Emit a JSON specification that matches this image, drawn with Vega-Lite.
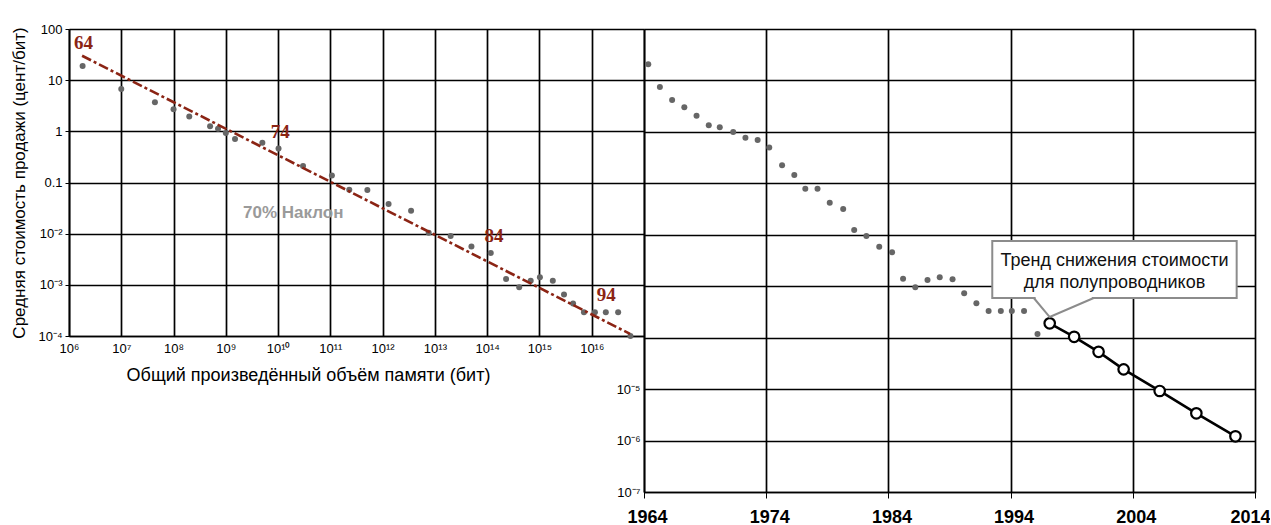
{
  "$schema": "https://vega.github.io/schema/vega-lite/v6.json",
  "padding": {"left": 10, "top": 23, "right": 0, "bottom": 0},
  "background": "white",
  "config": {
    "font": "Liberation Sans",
    "view": {"stroke": null},
    "axis": {
      "gridColor": "#000000", "gridWidth": 1.7, "gridOpacity": 1,
      "domainColor": "#000000", "domainWidth": 1.7,
      "tickColor": "#000000", "labelColor": "#000000", "titleColor": "#000000",
      "labelFont": "Liberation Sans", "titleFont": "Liberation Sans",
      "titleFontWeight": "normal"
    }
  },
  "datasets": {
    "leftDots": [
      {"mem": 1.82e6, "cost": 19}, {"mem": 1e7, "cost": 6.7}, {"mem": 4.4e7, "cost": 3.7},
      {"mem": 1e8, "cost": 2.7}, {"mem": 2e8, "cost": 1.96}, {"mem": 5e8, "cost": 1.26},
      {"mem": 7.1e8, "cost": 1.12}, {"mem": 1e9, "cost": 0.93}, {"mem": 1.5e9, "cost": 0.71},
      {"mem": 5e9, "cost": 0.6}, {"mem": 1.02e10, "cost": 0.46}, {"mem": 3e10, "cost": 0.21},
      {"mem": 1.07e11, "cost": 0.137}, {"mem": 2.3e11, "cost": 0.072}, {"mem": 5.1e11, "cost": 0.071},
      {"mem": 1.3e12, "cost": 0.038}, {"mem": 3.5e12, "cost": 0.028}, {"mem": 7.6e12, "cost": 0.0104},
      {"mem": 2e13, "cost": 0.009}, {"mem": 5e13, "cost": 0.0056}, {"mem": 1.17e14, "cost": 0.0042},
      {"mem": 2.3e14, "cost": 0.0013}, {"mem": 4.1e14, "cost": 0.0009}, {"mem": 6.8e14, "cost": 0.0012},
      {"mem": 1.02e15, "cost": 0.0014}, {"mem": 1.8e15, "cost": 0.0012}, {"mem": 2.95e15, "cost": 0.00065},
      {"mem": 4.4e15, "cost": 0.00043}, {"mem": 7.1e15, "cost": 0.00029}, {"mem": 1.15e16, "cost": 0.00029},
      {"mem": 1.86e16, "cost": 0.00029}, {"mem": 3.2e16, "cost": 0.00029}, {"mem": 5.5e16, "cost": 0.0001}
    ],
    "leftTrend": [{"mem": 1.78e6, "cost": 30}, {"mem": 5.4e16, "cost": 0.00011}],
    "leftLabels": [
      {"mem": 1.9e6, "cost": 53, "t": "64"},
      {"mem": 1.1e10, "cost": 0.96, "t": "74"},
      {"mem": 1.35e14, "cost": 0.0089, "t": "84"},
      {"mem": 1.9e16, "cost": 0.00063, "t": "94"}
    ],
    "slope": [{"mem": 1.95e10, "cost": 0.025, "t": "70% Наклон"}],
    "rightDots": [
      {"yr": 1964.35, "cost": 20.6}, {"yr": 1965.3, "cost": 7.45}, {"yr": 1966.3, "cost": 4.17},
      {"yr": 1967.3, "cost": 3.0}, {"yr": 1968.3, "cost": 2.06}, {"yr": 1969.3, "cost": 1.34},
      {"yr": 1970.2, "cost": 1.23}, {"yr": 1971.3, "cost": 1.0}, {"yr": 1972.3, "cost": 0.77},
      {"yr": 1973.3, "cost": 0.695}, {"yr": 1974.25, "cost": 0.5}, {"yr": 1975.3, "cost": 0.224},
      {"yr": 1976.3, "cost": 0.145}, {"yr": 1977.2, "cost": 0.0786}, {"yr": 1978.2, "cost": 0.0786},
      {"yr": 1979.2, "cost": 0.042}, {"yr": 1980.3, "cost": 0.0317}, {"yr": 1981.2, "cost": 0.0124},
      {"yr": 1982.2, "cost": 0.00946}, {"yr": 1983.25, "cost": 0.00586}, {"yr": 1984.3, "cost": 0.00456},
      {"yr": 1985.2, "cost": 0.0014}, {"yr": 1986.2, "cost": 0.000953}, {"yr": 1987.2, "cost": 0.00132},
      {"yr": 1988.2, "cost": 0.00149}, {"yr": 1989.25, "cost": 0.00136}, {"yr": 1990.2, "cost": 0.000728},
      {"yr": 1991.2, "cost": 0.000465}, {"yr": 1992.2, "cost": 0.00033}, {"yr": 1993.2, "cost": 0.00033},
      {"yr": 1994.1, "cost": 0.00033}, {"yr": 1995.1, "cost": 0.00033}, {"yr": 1996.2, "cost": 0.000118}
    ],
    "rightTrend": [
      {"yr": 1997.2, "cost": 0.00019}, {"yr": 1999.2, "cost": 0.000104}, {"yr": 2001.2, "cost": 5.3e-5},
      {"yr": 2003.25, "cost": 2.42e-5}, {"yr": 2006.2, "cost": 9.2e-6}, {"yr": 2009.2, "cost": 3.38e-6},
      {"yr": 2012.4, "cost": 1.21e-6}
    ],
    "box": [{"yr": 1992.5, "yr2": 2012.5, "cost": 0.00757, "cost2": 0.00059}],
    "gap": [{"yr": 1996.05, "yr2": 2000.65, "cost": 0.00059}],
    "pointer": [
      {"yr": 1995.9, "cost": 0.00059}, {"yr": 1997.2, "cost": 0.000252}, {"yr": 2000.8, "cost": 0.00059}
    ],
    "boxText": [
      {"yr": 2002.5, "cost": 0.0031, "t": "Тренд снижения стоимости"},
      {"yr": 2002.5, "cost": 0.00115, "t": "для полупроводников"}
    ]
  },
  "hconcat": [
    {
      "width": 575,
      "height": 307,
      "encoding": {
        "x": {
          "field": "mem", "type": "quantitative",
          "scale": {"type": "log", "domain": [1e6, 1e17], "nice": false},
          "axis": {
            "values": [1e6, 1e7, 1e8, 1e9, 1e10, 1e11, 1e12, 1e13, 1e14, 1e15, 1e16],
            "labelExpr": "'10' + (round(log(datum.value)/LN10) >= 10 ? '¹' : '') + substring('⁰¹²³⁴⁵⁶⁷⁸⁹', round(log(datum.value)/LN10) % 10, round(log(datum.value)/LN10) % 10 + 1)",
            "labelFontSize": 13, "labelPadding": 6, "tickSize": 0,
            "title": "Общий произведённый объём памяти (бит)",
            "titleFontSize": 18, "titleX": 239, "titleAlign": "center", "titlePadding": 11,
            "labelFlush": false
          }
        },
        "y": {
          "field": "cost", "type": "quantitative",
          "scale": {"type": "log", "domain": [0.0001, 100], "nice": false},
          "axis": {
            "values": [100, 10, 1, 0.1, 0.01, 0.001, 0.0001],
            "labelExpr": "datum.value > 50 ? '100' : datum.value > 5 ? '10' : datum.value > 0.5 ? '1' : datum.value > 0.05 ? '0.1' : '10⁻' + substring('⁰¹²³⁴⁵⁶⁷⁸⁹', round(-log(datum.value)/LN10), round(-log(datum.value)/LN10) + 1)",
            "labelFontSize": 13, "labelPadding": 3, "tickSize": 4,
            "title": "Средняя стоимость продажи (цент/бит)",
            "titleFontSize": 17, "titlePadding": 9,
            "labelFlush": false
          }
        }
      },
      "layer": [
        {"data": {"name": "leftDots"}, "mark": {"type": "circle", "size": 36, "color": "#666666", "opacity": 1}},
        {"data": {"name": "leftTrend"}, "mark": {"type": "line", "color": "#8b2414", "strokeWidth": 2.6, "strokeDash": [10, 3, 3, 3]}},
        {"data": {"name": "leftLabels"}, "mark": {"type": "text", "font": "Liberation Serif", "fontWeight": "bold", "fontSize": 19, "color": "#8b2414", "align": "center", "baseline": "middle"}, "encoding": {"text": {"field": "t"}}},
        {"data": {"name": "slope"}, "mark": {"type": "text", "font": "Liberation Sans", "fontWeight": "bold", "fontSize": 17, "color": "#9a9a9a", "align": "center", "baseline": "middle"}, "encoding": {"text": {"field": "t"}}}
      ]
    },
    {
      "width": 611,
      "height": 463,
      "encoding": {
        "x": {
          "field": "yr", "type": "quantitative",
          "scale": {"domain": [1964, 2014], "nice": false, "zero": false},
          "axis": {
            "values": [1964, 1974, 1984, 1994, 2004, 2014],
            "format": "d",
            "labelFontSize": 18, "labelFontWeight": "bold", "tickSize": 6, "labelPadding": 10,
            "labelFlush": false,
            "labelAlign": {"expr": "datum.value >= 2014 ? 'right' : 'center'"},
            "labelOffset": {"expr": "datum.value >= 2014 ? 15 : 3"},
            "title": null
          }
        },
        "y": {
          "field": "cost", "type": "quantitative",
          "scale": {"type": "log", "domain": [1e-7, 100], "nice": false},
          "axis": {
            "values": [100, 10, 1, 0.1, 0.01, 0.001, 0.0001, 1e-5, 1e-6, 1e-7],
            "labelExpr": "datum.value > 5e-5 ? '' : '10⁻' + substring('⁰¹²³⁴⁵⁶⁷⁸⁹', round(-log(datum.value)/LN10), round(-log(datum.value)/LN10) + 1)",
            "labelFontSize": 13, "labelPadding": 4, "tickSize": 0,
            "labelFlush": false,
            "title": null
          }
        }
      },
      "layer": [
        {"data": {"name": "rightDots"}, "mark": {"type": "circle", "size": 36, "color": "#666666", "opacity": 1}},
        {"data": {"name": "rightTrend"}, "mark": {"type": "line", "color": "#000000", "strokeWidth": 2.6, "point": {"filled": false, "fill": "white", "stroke": "black", "strokeWidth": 2.2, "size": 110, "opacity": 1}}},
        {"data": {"name": "box"}, "mark": {"type": "rect", "fill": "white", "stroke": "#8c8c8c", "strokeWidth": 2}, "encoding": {"x2": {"field": "yr2"}, "y2": {"field": "cost2"}}},
        {"data": {"name": "gap"}, "mark": {"type": "rule", "color": "white", "strokeWidth": 3}, "encoding": {"x2": {"field": "yr2"}}},
        {"data": {"name": "pointer"}, "mark": {"type": "line", "color": "#8c8c8c", "strokeWidth": 2}},
        {"data": {"name": "boxText"}, "mark": {"type": "text", "font": "Liberation Sans", "fontSize": 18, "color": "#111111", "align": "center", "baseline": "middle"}, "encoding": {"text": {"field": "t"}}}
      ]
    }
  ],
  "spacing": 0,
  "bounds": "flush"
}
